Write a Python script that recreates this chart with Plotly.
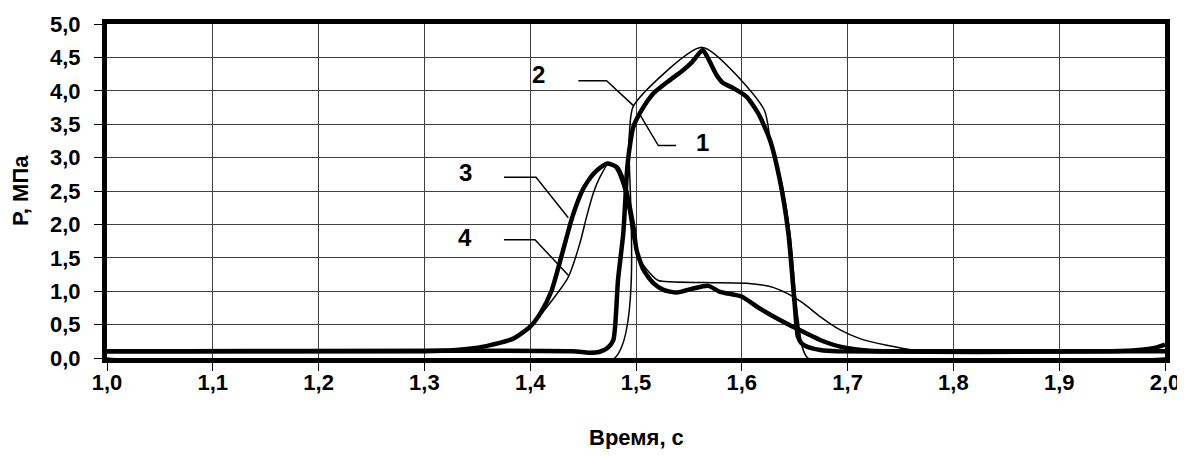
import plotly.graph_objects as go

# ---- data ----
t1 = [1.0, 1.44, 1.455, 1.465, 1.473, 1.4786, 1.483, 1.488, 1.4918, 1.495, 1.4975, 1.5053, 1.5164,
      1.532, 1.543, 1.553, 1.563, 1.567, 1.5715, 1.576, 1.582, 1.592, 1.6046, 1.6156, 1.6267,
      1.636, 1.644, 1.650, 1.653, 1.6565, 1.665, 1.674, 1.69, 1.95, 1.975, 1.99, 2.0]
p1 = [0.1, 0.1, 0.08, 0.09, 0.15, 0.27, 1.17, 1.87, 2.86, 3.26, 3.46, 3.71, 3.96,
      4.16, 4.29, 4.43, 4.61, 4.52, 4.38, 4.24, 4.12, 4.04, 3.91, 3.66, 3.26,
      2.66, 1.87, 0.8, 0.32, 0.22, 0.15, 0.12, 0.1, 0.1, 0.12, 0.15, 0.2]

t2 = [1.0, 1.480, 1.4935, 1.4975, 1.5627, 1.621, 1.6275, 1.638, 1.646, 1.653, 1.6625, 2.0]
p2 = [0.0, 0.0, 3.3, 3.77, 4.65, 3.72, 3.2, 2.6, 1.8, 0.6, 0.0, 0.0]

t3 = [1.0, 1.30, 1.33, 1.3557, 1.384, 1.40, 1.41, 1.42, 1.43, 1.44, 1.45, 1.46,
      1.4723, 1.4817, 1.488, 1.4912, 1.4975, 1.5005, 1.507, 1.5164, 1.526, 1.5385, 1.554, 1.5683,
      1.5794, 1.592, 1.5998, 1.6172, 1.636, 1.6519, 1.674, 1.693, 1.721, 1.752, 2.0]
p3 = [0.1, 0.1, 0.12, 0.17, 0.29, 0.47, 0.68, 1.0, 1.55, 2.12, 2.53, 2.76,
      2.91, 2.86, 2.66, 2.47, 1.97, 1.62, 1.32, 1.12, 1.02, 0.98, 1.04, 1.08,
      0.99, 0.95, 0.92, 0.74, 0.57, 0.44, 0.27, 0.17, 0.11, 0.1, 0.1]

t4 = [1.0, 1.30, 1.33, 1.3557, 1.384, 1.403, 1.42, 1.4345, 1.4376, 1.447, 1.4534, 1.4597, 1.466,
      1.474, 1.48, 1.487, 1.493, 1.4975, 1.504, 1.5132, 1.521, 1.5636, 1.6046, 1.6267, 1.6424,
      1.658, 1.674, 1.693, 1.7117, 1.737, 1.762, 1.784, 2.0]
p4 = [0.1, 0.1, 0.12, 0.17, 0.29, 0.52, 0.85, 1.17, 1.27, 1.72, 2.12, 2.47, 2.71,
      2.91, 2.85, 2.6, 2.2, 1.77, 1.47, 1.27, 1.16, 1.13, 1.12, 1.07, 0.97,
      0.82, 0.62, 0.42, 0.29, 0.19, 0.12, 0.1, 0.1]

curve_labels = ["1", "2", "3", "4"]
label_t = [1.5624, 1.4074, 1.3384, 1.3384]
label_p = [3.23, 4.24, 2.77, 1.81]
leader_t = [[1.5038, 1.5211, 1.5378], [1.4455, 1.4722, 1.4981],
            [1.3752, 1.4055, 1.436], [1.3752, 1.4045, 1.436]]
leader_p = [[3.64, 3.18, 3.18], [4.15, 4.15, 3.77],
            [2.705, 2.705, 2.1], [1.77, 1.77, 1.24]]

x_ticks = [1.0, 1.1, 1.2, 1.3, 1.4, 1.5, 1.6, 1.7, 1.8, 1.9, 2.0]
y_ticks = [0.0, 0.5, 1.0, 1.5, 2.0, 2.5, 3.0, 3.5, 4.0, 4.5, 5.0]

FONT = "Liberation Sans, Arial, sans-serif"

fig = go.Figure()
series = [(t1, p1, 4.5), (t2, p2, 1.5), (t3, p3, 4.5), (t4, p4, 1.5)]
for t, p, w in series:
    fig.add_trace(go.Scatter(x=t, y=p, mode="lines",
                             line=dict(color="black", width=w, shape="spline", smoothing=0.6),
                             showlegend=False, hoverinfo="skip"))

for lt, lp in zip(leader_t, leader_p):
    fig.add_trace(go.Scatter(x=lt, y=lp, mode="lines",
                             line=dict(color="black", width=1.5),
                             showlegend=False, hoverinfo="skip"))

for lab, tx, py in zip(curve_labels, label_t, label_p):
    fig.add_annotation(x=tx, y=py, text=lab, showarrow=False,
                       font=dict(family=FONT, size=24, color="black", weight="bold"))

axis_common = dict(showline=True, linecolor="black", linewidth=5, mirror=True,
                   showgrid=True, gridcolor="#404040", gridwidth=1,
                   ticks="outside", ticklen=8, tickcolor="black", tickwidth=1,
                   tickfont=dict(family=FONT, size=22, color="black", weight="bold"),
                   zeroline=False, tickformat=".1f", automargin=False,
                   ticklabeloverflow="allow")

fig.update_xaxes(range=[1.0, 2.0], tickvals=x_ticks, ticklabelstandoff=-7, **axis_common)
fig.update_yaxes(range=[0.0, 5.0], tickvals=y_ticks, ticklabelstandoff=9, **axis_common)

fig.add_annotation(x=0.5, y=0, xref="paper", yref="paper", yshift=-79,
                   xanchor="center", yanchor="middle",
                   text="Время, с", showarrow=False,
                   font=dict(family=FONT, size=22, color="black", weight="bold"))
fig.add_annotation(x=0, y=0.5, xref="paper", yref="paper", xshift=-87,
                   xanchor="center", yanchor="middle",
                   text="P, МПа", showarrow=False, textangle=-90,
                   font=dict(family=FONT, size=22, color="black", weight="bold"))

# page body has an 8px default margin; offset figure so the plot box lands where the reference has it
fig.update_layout(width=1177, height=441, margin=dict(l=99, r=20, t=16, b=91),
                  paper_bgcolor="white", plot_bgcolor="white", separators=", ")

fig.write_html("out.html")
